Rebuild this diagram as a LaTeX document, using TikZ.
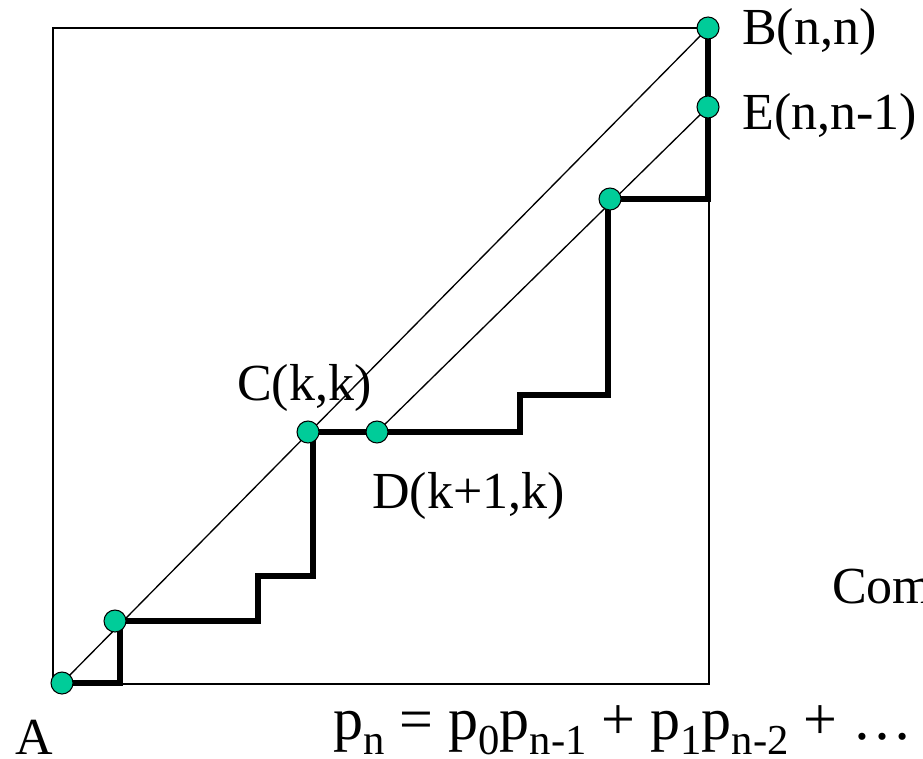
\documentclass[tikz,border=0pt]{standalone}
\usepackage{fontspec}
\setmainfont{Liberation Serif}
\usetikzlibrary{positioning}
\definecolor{dotgreen}{RGB}{0,204,153}
\newcommand\sbs[1]{\raisebox{-0.26em}{\fontsize{32}{34}\selectfont #1}}

\begin{document}
\begin{tikzpicture}[x=0.75pt,y=0.75pt,
  pt/.style={circle,draw=black,line width=0.8pt,fill=dotgreen,minimum size=16.5pt,inner sep=0pt},
  lbl/.style={anchor=base west,inner sep=0pt,font=\fontsize{39}{46}\selectfont},
  stair/.style={line width=4.5pt,line join=miter}]
\useasboundingbox (0,0) rectangle (923,758);
\draw[line width=0.9pt] (53,74) rectangle (709,730);
% lattice points
\coordinate (A) at (62,75);
\coordinate (P1) at (115,137);
\coordinate (C) at (308,326);
\coordinate (D) at (377,326);
\coordinate (P2) at (610,559);
\coordinate (E) at (708,651);
\coordinate (B) at (708,730);
% diagonals
\draw[line width=1pt] (A)--(B);
\draw[line width=1pt] (D)--(E);
% the path
\draw[stair] (A) -| (120,137) -| (258,182) -| (313,326) -- (D)
  -| (520,363) -| (608,559) -| (B);
\foreach \p in {A,P1,C,D,P2,E,B} \node[pt] at (\p) {};
% labels
\node[lbl] (lA) at (15,4) {A};
\node[lbl] (lB) at (742,713) {B(n,n)};
\node[lbl] (lE) at (742,628) {E(n,n-1)};
\node[lbl] (lC) at (237,358) {C(k,k)};
\node[lbl] (lD) at (372,250) {D(k+1,k)};
\node[lbl] (lCom) at (832,155) {Com};
\node[lbl,font=\fontsize{45}{50}\selectfont] (sum) at (333,19)
  {p\sbs{n} = p\sbs{0}p\sbs{n-1} + p\sbs{1}p\sbs{n-2} + \dots};
\end{tikzpicture}
\end{document}
